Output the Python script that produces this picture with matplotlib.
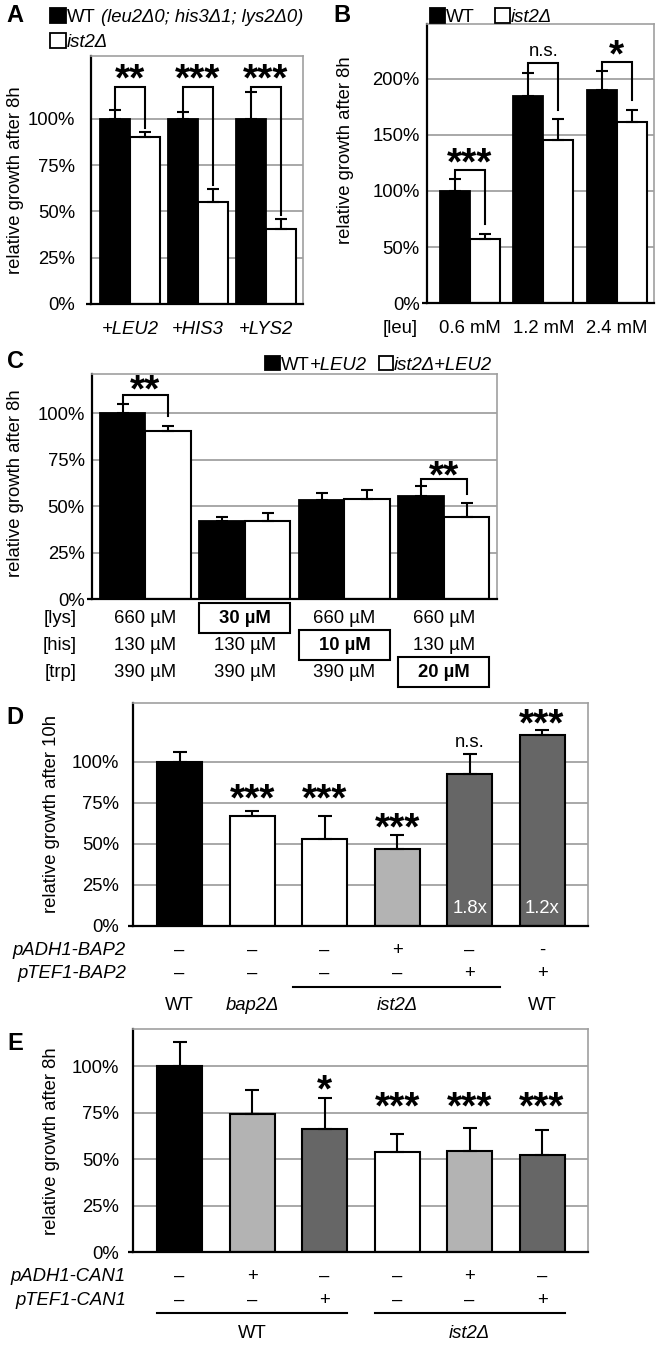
import numpy as np
import matplotlib
matplotlib.use("Agg")
import matplotlib.pyplot as plt
from matplotlib.patches import Rectangle
from matplotlib.transforms import blended_transform_factory as blend

# ---------------- data ----------------
# Panel A
a_labels = ["+LEU2", "+HIS3", "+LYS2"]
a_wt = [100.0, 100.0, 100.0]
a_wt_err = [4.8, 3.5, 14.3]
a_ist2 = [90.3, 54.9, 40.5]
a_ist2_err = [2.7, 7.2, 5.6]
a_sig = ["**", "***", "***"]
a_yticks = [0, 25, 50, 75, 100]

# Panel B
b_labels = ["0.6 mM", "1.2 mM", "2.4 mM"]
b_wt = [100.0, 184.4, 190.0]
b_wt_err = [10.6, 20.6, 16.6]
b_ist2 = [57.0, 145.0, 161.0]
b_ist2_err = [4.7, 18.7, 11.0]
b_sig = ["***", "n.s.", "*"]
b_yticks = [0, 50, 100, 150, 200]

# Panel C
c_rows = ["[lys]", "[his]", "[trp]"]
c_lys = ["660 µM", "30 µM", "660 µM", "660 µM"]
c_his = ["130 µM", "130 µM", "10 µM", "130 µM"]
c_trp = ["390 µM", "390 µM", "390 µM", "20 µM"]
c_limited_row = [-1, 0, 1, 2]
c_wt = [100.0, 42.2, 53.5, 55.7]
c_wt_err = [5.0, 1.8, 3.4, 5.0]
c_ist2 = [90.7, 42.2, 53.9, 44.5]
c_ist2_err = [2.7, 4.1, 4.8, 7.2]
c_sig = ["**", "", "", "**"]
c_yticks = [0, 25, 50, 75, 100]

# Panel D
d_vals = [100.0, 66.6, 53.0, 47.0, 92.5, 116.0]
d_err = [5.9, 3.4, 14.2, 8.6, 12.2, 3.4]
d_padh1 = ["–", "–", "–", "+", "–", "-"]
d_ptef1 = ["–", "–", "–", "–", "+", "+"]
d_sig = ["", "***", "***", "***", "n.s.", "***"]
d_fold = ["", "", "", "", "1.8x", "1.2x"]
d_strains = ["WT", "bap2Δ", "ist2Δ", "WT"]
d_strain_italic = [False, True, True, False]
d_strain_pos = [0, 1, 3, 5]

# Panel E
e_vals = [100.0, 74.4, 66.3, 54.1, 54.6, 52.3]
e_err = [12.9, 12.7, 16.8, 9.7, 12.4, 13.6]
e_padh1 = ["–", "+", "–", "–", "+", "–"]
e_ptef1 = ["–", "–", "+", "–", "–", "+"]
e_sig = ["", "", "*", "***", "***", "***"]
e_strains = ["WT", "ist2Δ"]
e_strain_italic = [False, True]
e_strain_pos = [1, 4]
yticks_de = [0, 25, 50, 75, 100]

# ---------------- style ----------------
BLACK, WHITE, LGRAY, DGRAY = "#000000", "#ffffff", "#b3b3b3", "#666666"
d_colors = [BLACK, WHITE, WHITE, LGRAY, DGRAY, DGRAY]
e_colors = [BLACK, LGRAY, DGRAY, WHITE, LGRAY, DGRAY]

FS = 13.3
FS_STAR = 28
STAR_OFF = 0.44
plt.rcParams.update({
    "font.family": ["Liberation Sans", "DejaVu Sans"],
    "font.size": FS,
})

W, H = 661, 1345
fig = plt.figure(figsize=(W / 100, H / 100), dpi=100)
fig.patch.set_facecolor("white")
renderer = fig.canvas.get_renderer()
EM = FS * 100 / 72.0


def ax_px(x0, y0, x1, y1):
    return fig.add_axes([x0 / W, 1 - y1 / H, (x1 - x0) / W, (y1 - y0) / H])


def style(ax, ymax, ticks, xlim, pad, width_px):
    ax.set_ylim(0, ymax)
    ax.set_xlim(*xlim)
    ax.set_yticks(ticks)
    ax.set_yticklabels([f"{t}%" for t in ticks])
    ax.set_xticks([])
    ax.tick_params(axis="y", length=0, pad=pad, labelsize=FS)
    for s in ["top", "right"]:
        ax.spines[s].set_color("#a0a0a0")
        ax.spines[s].set_linewidth(1.2)
    for s in ["left", "bottom"]:
        ax.spines[s].set_color("black")
        ax.spines[s].set_linewidth(1.6)
    ax.yaxis.grid(True, color="#999999", lw=1.2)
    ax.set_axisbelow(True)
    ax.plot([-5.0 / width_px, 0], [0, 0], transform=ax.transAxes, color="k",
            lw=1.6, clip_on=False, solid_capstyle="butt")


def ylabel(ax, s, x, y):
    ax.set_ylabel(s, fontsize=FS)
    ax.yaxis.label.set_verticalalignment("center")
    ax.yaxis.set_label_coords(x, y)


def sig_text(ax, x, yc, s):
    if "*" in s:
        ax.annotate(s, (x, yc), xytext=(0, -STAR_OFF * FS_STAR), textcoords="offset points",
                    ha="center", va="baseline", fontsize=FS_STAR, fontweight="bold",
                    annotation_clip=False)
    else:
        ax.text(x, yc, s, ha="center", va="center", fontsize=FS)


def grouped(ax, wt, wte, ko, koe, w):
    x = np.arange(len(wt))
    n = len(wt)
    ax.bar(x - w / 2, wt, w, color=BLACK, edgecolor="black", lw=1.3, zorder=2)
    ax.bar(x + w / 2, ko, w, color=WHITE, edgecolor="black", lw=1.5, zorder=2)
    ax.errorbar(x - w / 2, wt, yerr=[np.zeros(n), wte], fmt="none", ecolor="k",
                elinewidth=1.5, capsize=4.5, capthick=1.5, zorder=3)
    ax.errorbar(x + w / 2, ko, yerr=[np.zeros(n), koe], fmt="none", ecolor="k",
                elinewidth=1.5, capsize=4.5, capthick=1.5, zorder=3)
    return x


def brackets(ax, x, w, wt, wte, ko, koe, sig, by, sy, rgap):
    for i, s in enumerate(sig):
        if not s:
            continue
        xl, xr = x[i] - w / 2, x[i] + w / 2
        yl = wt[i] + wte[i]
        yr = ko[i] + koe[i] + rgap
        ax.plot([xl, xl, xr, xr], [yl, by[i], by[i], yr], color="k", lw=1.5,
                zorder=4, solid_joinstyle="miter")
        sig_text(ax, (xl + xr) / 2, sy[i], s)


def fig_rect(x0, y0, x1, y1, fc):
    fig.add_artist(Rectangle((x0 / W, 1 - y1 / H), (x1 - x0) / W, (y1 - y0) / H,
                             transform=fig.transFigure, facecolor=fc,
                             edgecolor="black", lw=1.3))


def fig_text(x, y, s, **kw):
    return fig.text(x / W, 1 - y / H, s, **kw)


def rich(x, y, parts):
    """Left-aligned run of text pieces; y is the visual centre (pixels from top)."""
    cx = x
    base = y + 0.36 * EM
    for txt, st in parts:
        if txt == " ":
            cx += 0.278 * EM
            continue
        t = fig_text(cx, base, txt, ha="left", va="baseline", fontsize=FS, fontstyle=st)
        cx += t.get_window_extent(renderer).width


# ---------------- Panel A ----------------
axA = ax_px(90.7, 56, 302.7, 304)
wA = 0.44
xA = grouped(axA, a_wt, a_wt_err, a_ist2, a_ist2_err, wA)
style(axA, 134, a_yticks, (-0.58, 2.54), 11, 212)
brackets(axA, xA, wA, a_wt, a_wt_err, a_ist2, a_ist2_err, a_sig,
         [117, 117, 117], [124.5, 124.5, 124.5], 2)
ylabel(axA, "relative growth after 8h", -0.357, 0.5)
trA = blend(axA.transData, axA.transAxes)
for i, lab in enumerate(a_labels):
    axA.text(xA[i], -0.102, lab, transform=trA, ha="center", va="center",
             fontsize=FS, fontstyle="italic")
fig_text(15, 16, "A", fontsize=17, fontweight="bold", ha="center", va="center")
fig_rect(50, 8, 66, 23, BLACK)
rich(67, 15.5, [("WT", "normal"), (" ", None), ("(leu2Δ0; his3Δ1; lys2Δ0)", "italic")])
fig_rect(50, 33, 66, 48, WHITE)
rich(67, 40.5, [("ist2Δ", "italic")])

# ---------------- Panel B ----------------
axB = ax_px(426.7, 24, 654, 303.3)
wB = 0.41
xB = grouped(axB, b_wt, b_wt_err, b_ist2, b_ist2_err, wB)
style(axB, 248.5, b_yticks, (-0.59, 2.51), 5, 227.3)
brackets(axB, xB, wB, b_wt, b_wt_err, b_ist2, b_ist2_err, b_sig,
         [118.6, 213.5, 215.0], [130, 224, 226], 8.5)
ylabel(axB, "relative growth after 8h", -0.359, 0.549)
trB = blend(axB.transData, axB.transAxes)
axB.text(-0.95, -0.0895, "[leu]", transform=trB, ha="center", va="center", fontsize=FS)
for i, lab in enumerate(b_labels):
    axB.text(xB[i], -0.0895, lab, transform=trB, ha="center", va="center", fontsize=FS)
fig_text(342, 16, "B", fontsize=17, fontweight="bold", ha="center", va="center")
fig_rect(430, 8, 445, 23, BLACK)
rich(446, 15.5, [("WT", "normal")])
fig_rect(495, 8, 510, 23, WHITE)
rich(511, 15.5, [("ist2Δ", "italic")])

# ---------------- Panel C ----------------
axC = ax_px(91.7, 374.3, 496.7, 599.3)
wC = 0.457
xC = grouped(axC, c_wt, c_wt_err, c_ist2, c_ist2_err, wC)
style(axC, 121, c_yticks, (-0.54, 3.53), 5, 405)
brackets(axC, xC, wC, c_wt, c_wt_err, c_ist2, c_ist2_err, c_sig,
         [110, 0, 0, 64.7], [115.5, 0, 0, 69.5], 5)
ylabel(axC, "relative growth after 8h", -0.189, 0.517)
trC = blend(axC.transData, axC.transAxes)
row_y = [-0.0844, -0.204, -0.324]
box_h = 30 / 225
for r, (name, vals) in enumerate(zip(c_rows, [c_lys, c_his, c_trp])):
    axC.text(-0.69, row_y[r], name, transform=trC, ha="right", va="center", fontsize=FS)
    for j, v in enumerate(vals):
        bold = c_limited_row[j] == r
        axC.text(xC[j], row_y[r], v, transform=trC, ha="center", va="center",
                 fontsize=FS, fontweight="bold" if bold else "normal")
        if bold:
            axC.add_patch(Rectangle((xC[j] - wC, row_y[r] - box_h / 2), 2 * wC, box_h,
                                    transform=trC, facecolor="none", edgecolor="black",
                                    lw=1.5, clip_on=False))
fig_text(15, 361, "C", fontsize=17, fontweight="bold", ha="center", va="center")
fig_rect(265, 356, 280, 370, BLACK)
rich(281, 363, [("WT", "normal"), ("+LEU2", "italic")])
fig_rect(379, 356, 393, 370, WHITE)
rich(394, 363, [("ist2Δ+LEU2", "italic")])


# ---------------- Panels D and E ----------------
def single_panel(ax, vals, err, colors, ymax, sig, sig_y, pad):
    x = np.arange(len(vals))
    w = 0.62
    ax.bar(x, vals, w, color=colors, edgecolor="black", lw=1.5, zorder=2)
    ax.errorbar(x, vals, yerr=[np.zeros(len(vals)), err], fmt="none", ecolor="k",
                elinewidth=1.5, capsize=5, capthick=1.5, zorder=3)
    style(ax, ymax, yticks_de, (-0.64, 5.63), pad, 454.4)
    for i, s in enumerate(sig):
        if s:
            sig_text(ax, x[i], sig_y[i], s)
    return x


def table_rows(ax, x, names, rows, row_y):
    tr = blend(ax.transData, ax.transAxes)
    for name, vals, yy in zip(names, rows, row_y):
        ax.text(-0.74, yy, name, transform=tr, ha="right", va="center",
                fontsize=FS, fontstyle="italic")
        for i, v in enumerate(vals):
            ax.text(x[i], yy, v, transform=tr, ha="center", va="center", fontsize=FS)
    return tr


axD = ax_px(133.3, 702.7, 587.7, 925.7)
xD = single_panel(axD, d_vals, d_err, d_colors, 136, d_sig,
                  [0, 81, 81, 63, 112, 126.7], 10)
ylabel(axD, "relative growth after 10h", -0.181, 0.50)
for i, s in enumerate(d_fold):
    if s:
        axD.text(xD[i], 10.6, s, ha="center", va="center", color="white", fontsize=FS)
trD = table_rows(axD, xD, ["pADH1-BAP2", "pTEF1-BAP2"], [d_padh1, d_ptef1], [-0.109, -0.213])
axD.plot([1.57, 4.42], [-0.274, -0.274], transform=trD, color="k", lw=1.5, clip_on=False)
for s, p, it in zip(d_strains, d_strain_pos, d_strain_italic):
    axD.text(xD[p], -0.36, s, transform=trD, ha="center", va="center", fontsize=FS,
             fontstyle="italic" if it else "normal")
fig_text(15, 717, "D", fontsize=17, fontweight="bold", ha="center", va="center")

axE = ax_px(133.3, 1029, 587.7, 1252.3)
xE = single_panel(axE, e_vals, e_err, e_colors, 120, e_sig,
                  [0, 0, 90, 81, 81, 81], 10)
ylabel(axE, "relative growth after 8h", -0.181, 0.498)
trE = table_rows(axE, xE, ["pADH1-CAN1", "pTEF1-CAN1"], [e_padh1, e_ptef1], [-0.109, -0.214])
axE.plot([xE[0] - 0.31, xE[2] + 0.31], [-0.273, -0.273], transform=trE, color="k", lw=1.5, clip_on=False)
axE.plot([xE[3] - 0.31, xE[5] + 0.31], [-0.273, -0.273], transform=trE, color="k", lw=1.5, clip_on=False)
for s, p, it in zip(e_strains, e_strain_pos, e_strain_italic):
    axE.text(xE[p], -0.363, s, transform=trE, ha="center", va="center", fontsize=FS,
             fontstyle="italic" if it else "normal")
fig_text(15, 1044, "E", fontsize=17, fontweight="bold", ha="center", va="center")

fig.savefig("out.png", dpi=100, facecolor="white")
